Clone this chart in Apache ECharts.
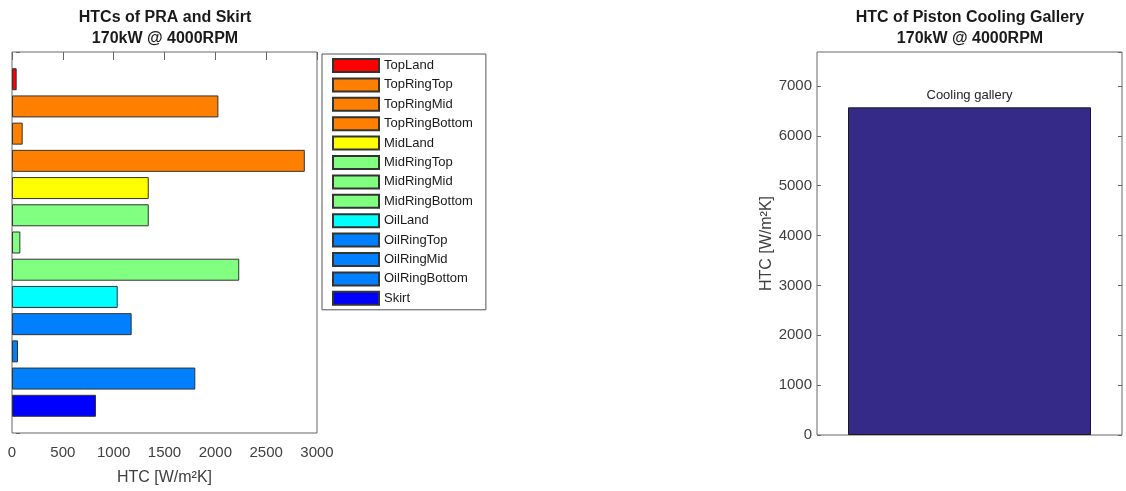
<!DOCTYPE html>
<html>
<head>
    <meta charset="UTF-8">
    <title>HTCs of PRA and Skirt</title>
    <script src="https://cdn.jsdelivr.net/npm/echarts/dist/echarts.min.js"></script>
    <style>
        html, body { margin: 0; padding: 0; background: #fff; }
        #main { width: 1126px; height: 491px; }
    </style>
</head>
<body>
    <div id="main"></div>
    <script type="text/javascript">
        // zones of the piston ring area and skirt
        var zones = ['TopLand', 'TopRingTop', 'TopRingMid', 'TopRingBottom', 'MidLand',
            'MidRingTop', 'MidRingMid', 'MidRingBottom', 'OilLand', 'OilRingTop',
            'OilRingMid', 'OilRingBottom', 'Skirt'];
        var htcValues = [46, 2030, 105, 2880, 1345, 1345, 82, 2235, 1040, 1177, 59, 1803, 826];
        var zoneColors = ['#ff0000', '#ff8000', '#ff8000', '#ff8000', '#ffff00',
            '#80ff80', '#80ff80', '#80ff80', '#00ffff', '#0080ff',
            '#0080ff', '#0080ff', '#0000ff'];

        var galleryName = ['Cooling gallery'];
        var galleryHtc = [6570];

        var font = "'Liberation Sans', Arial, Helvetica, sans-serif";
        var axisCol = '#666';
        var textCol = '#404040';

        var chart = echarts.init(document.getElementById('main'));

        // one empty slot above and below, like the matlab ylim
        var yCats = [''].concat(zones).concat(['']);

        var series = zones.map(function (name, i) {
            var d = yCats.map(function () { return '-'; });
            d[i + 1] = htcValues[i];
            return {
                name: name,
                type: 'bar',
                xAxisIndex: 0,
                yAxisIndex: 0,
                data: d,
                barWidth: 22,
                barGap: '-100%',
                itemStyle: { color: zoneColors[i], borderColor: '#333', borderWidth: 1 }
            };
        });

        series.push({
            name: 'Cooling gallery',
            type: 'bar',
            xAxisIndex: 2,
            yAxisIndex: 2,
            data: galleryHtc,
            barWidth: 243,
            itemStyle: { color: '#352a87', borderColor: '#1a1a1a', borderWidth: 1 },
            label: {
                show: true, position: 'top', distance: 5, formatter: '{b}',
                color: '#262626', fontSize: 13, fontFamily: font
            }
        });

        var titleStyle = { fontSize: 16, fontWeight: 'bold', color: '#1a1a1a', lineHeight: 21, fontFamily: font };

        // box comes from the grid border; ticks point inward by pulling each axis 4px into the plot
        var tick = function () { return { show: true, length: 4, lineStyle: { color: axisCol } }; };
        var noLine = { show: false };
        var plain = function (v) { return String(v); };

        var option = {
            animation: false,
            textStyle: { fontFamily: font },
            title: [
                { text: 'HTCs of PRA and Skirt\n170kW @ 4000RPM', left: 165, top: 7, padding: 0, textAlign: 'center', textStyle: titleStyle },
                { text: 'HTC of Piston Cooling Gallery\n170kW @ 4000RPM', left: 970, top: 7, padding: 0, textAlign: 'center', textStyle: titleStyle }
            ],
            legend: {
                data: zones,
                orient: 'vertical',
                left: 322,
                top: 54,
                padding: [4, 13, 4, 10],
                borderColor: '#555',
                borderWidth: 1,
                icon: 'rect',
                itemWidth: 46,
                itemHeight: 13,
                itemGap: 4.4,
                selectedMode: false,
                textStyle: { fontSize: 13, lineHeight: 13, color: '#1a1a1a', fontFamily: font }
            },
            grid: [
                { left: 12, top: 52, width: 305, height: 382, show: true, borderColor: axisCol, borderWidth: 1, backgroundColor: 'transparent' },
                { left: 817, top: 52, width: 305, height: 383, show: true, borderColor: axisCol, borderWidth: 1, backgroundColor: 'transparent' }
            ],
            xAxis: [
                {
                    type: 'value', gridIndex: 0, min: 0, max: 3000, interval: 500, offset: -4,
                    name: 'HTC [W/m²K]', nameLocation: 'middle', nameGap: 41,
                    nameTextStyle: { fontSize: 16, color: textCol, fontFamily: font },
                    axisLine: noLine, axisTick: tick(),
                    axisLabel: { margin: 16, fontSize: 15, color: textCol, formatter: plain },
                    splitLine: { show: false }
                },
                {
                    type: 'value', gridIndex: 0, position: 'top', min: 0, max: 3000, interval: 500, offset: -4,
                    axisLine: noLine, axisTick: tick(),
                    axisLabel: { show: false },
                    splitLine: { show: false }
                },
                {
                    type: 'category', gridIndex: 1, data: galleryName, offset: -4,
                    axisLine: noLine,
                    axisTick: Object.assign({ alignWithLabel: true }, tick()),
                    axisLabel: { show: false }
                },
                {
                    type: 'category', gridIndex: 1, position: 'top', data: galleryName, offset: -4,
                    axisLine: noLine,
                    axisTick: Object.assign({ alignWithLabel: true }, tick()),
                    axisLabel: { show: false }
                }
            ],
            yAxis: [
                {
                    type: 'category', gridIndex: 0, data: yCats, inverse: true, boundaryGap: false,
                    axisLine: noLine,
                    axisTick: { show: false },
                    axisLabel: { show: false }
                },
                {
                    type: 'value', gridIndex: 0, position: 'right', inverse: true, min: 0, max: 14, interval: 13, offset: -4,
                    axisLine: noLine, axisTick: tick(),
                    axisLabel: { show: false },
                    splitLine: { show: false }
                },
                {
                    type: 'value', gridIndex: 1, min: 0, max: 7680, interval: 1000, offset: -4,
                    name: 'HTC [W/m²K]', nameLocation: 'middle', nameGap: 46,
                    nameTextStyle: { fontSize: 16, color: textCol, fontFamily: font },
                    axisLine: noLine, axisTick: tick(),
                    axisLabel: { margin: 9, fontSize: 15, color: textCol, showMaxLabel: false, formatter: plain },
                    splitLine: { show: false }
                },
                {
                    type: 'value', gridIndex: 1, position: 'right', min: 0, max: 7680, interval: 1000, offset: -4,
                    axisLine: noLine, axisTick: tick(),
                    axisLabel: { show: false },
                    splitLine: { show: false }
                }
            ],
            series: series
        };

        chart.setOption(option);
    </script>
</body>
</html>
